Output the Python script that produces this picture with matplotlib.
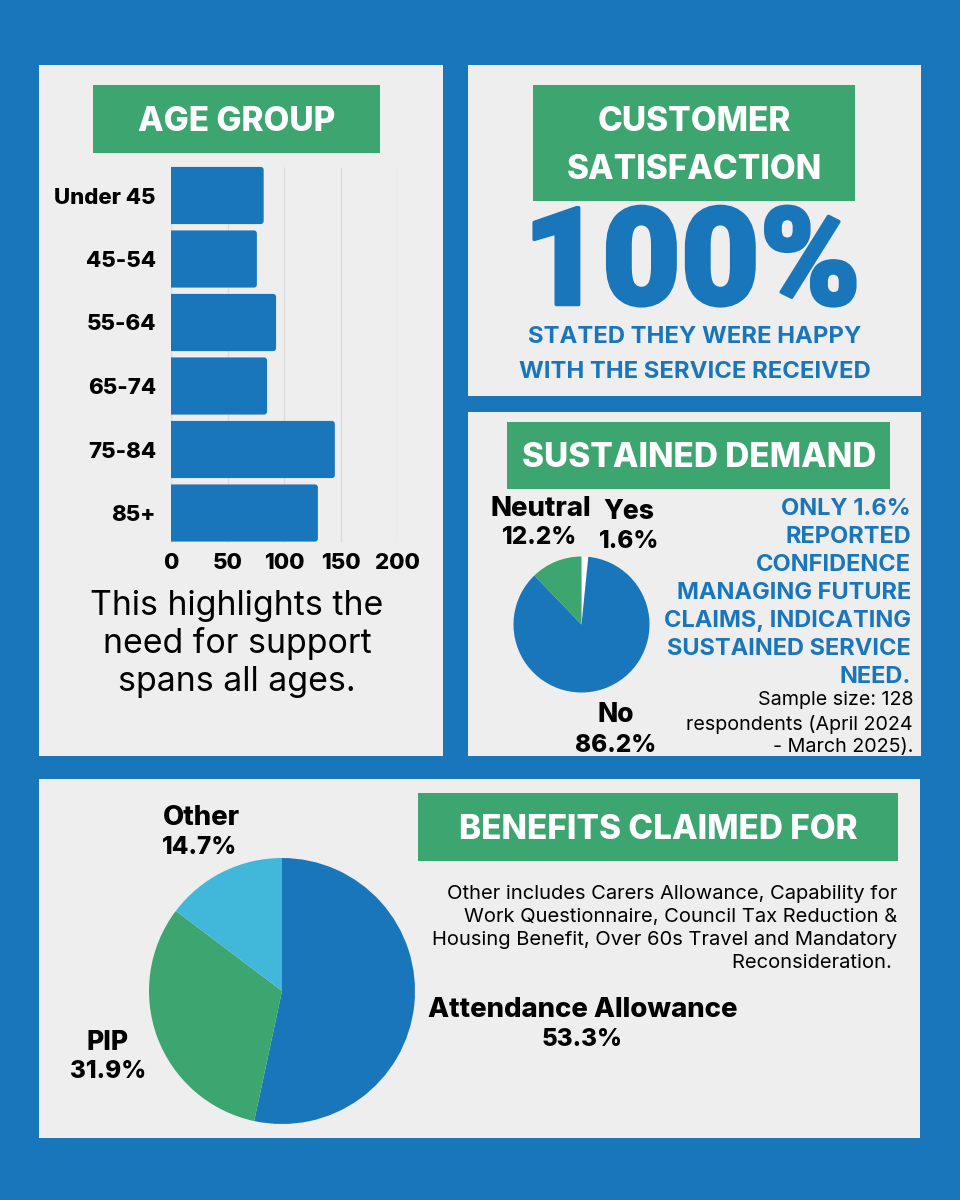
import matplotlib
matplotlib.use("Agg")
import matplotlib.pyplot as plt
import matplotlib.patheffects as pe
from matplotlib.patches import Rectangle, FancyBboxPatch

BLUE = "#1A76BB"; PANEL = "#EEEEEE"; GREEN = "#3DA56F"; CYAN = "#41B8DA"
plt.rcParams['font.family'] = ['Inter', 'Open Sans', 'DejaVu Sans']

age_groups = ["Under 45", "45-54", "55-64", "65-74", "75-84", "85+"]
age_counts = [82, 76, 93, 85, 145, 130]
age_ticks = [0, 50, 100, 150, 200]

demand_labels = ["Yes", "No", "Neutral"]
demand_values = [1.6, 86.2, 12.2]

benefit_labels = ["Attendance Allowance", "PIP", "Other"]
benefit_values = [53.3, 31.9, 14.7]

W, H = 960, 1200
fig = plt.figure(figsize=(W / 100, H / 100), dpi=100, facecolor=BLUE)

def axes_px(x0, y0, x1, y1, **kw):
    return fig.add_axes([x0 / W, 1 - y1 / H, (x1 - x0) / W, (y1 - y0) / H], **kw)

bg = axes_px(0, 0, W, H)
bg.set_xlim(0, W); bg.set_ylim(H, 0); bg.axis("off")

def box(x0, y0, x1, y1, c):
    bg.add_patch(Rectangle((x0, y0), x1 - x0, y1 - y0, fc=c, ec="none"))

for p in [(39, 65, 443, 756), (468, 65, 921, 396), (468, 412, 921, 756), (39, 779, 920, 1138)]:
    box(*p, PANEL)
for g in [(93, 85, 380, 153), (533, 85, 855, 201), (507, 422, 890, 489), (418, 793, 898, 861)]:
    box(*g, GREEN)

def T(x, y, s, size, color="black", weight="bold", ha="center", **kw):
    bg.text(x, y + 2, s, fontsize=size, color=color, fontweight=weight, ha=ha, va="center", **kw)

TITLE = 24
TW = "heavy"
# titles
T(236.5, 120, "AGE GROUP", TITLE, "white", weight=TW)
T(694, 120, "CUSTOMER", TITLE, "white", weight=TW)
T(694, 168, "SATISFACTION", TITLE, "white", weight=TW)
T(699, 456, "SUSTAINED DEMAND", TITLE, "white", weight=TW)
T(658, 828, "BENEFITS CLAIMED FOR", TITLE, "white", weight=TW)

# bar chart
ax = axes_px(171, 163.75, 397, 544.75)
bars = ax.barh(age_groups, age_counts, height=0.9, color="none", edgecolor="none")
ax.set_xlim(0, 200)
ax.set_ylim(len(age_groups) - 0.5, -0.5)
ax.patch.set_alpha(0)
for b in bars:
    p = FancyBboxPatch((-6, b.get_y()), b.get_width() + 6, b.get_height(),
                       boxstyle="round,pad=0,rounding_size=2.6", mutation_aspect=0.018,
                       fc=BLUE, ec="none", zorder=3)
    ax.add_patch(p)
ax.set_xticks(age_ticks)
ax.vlines(age_ticks, -0.45, len(age_groups) - 1 + 0.45, color="#DCDCDC", lw=1, zorder=1)
ax.tick_params(length=0)
ax.tick_params(axis="x", pad=6, labelsize=16)
ax.tick_params(axis="y", pad=10.8, labelsize=16)
for lbl in ax.get_xticklabels() + ax.get_yticklabels():
    lbl.set_fontweight("heavy")
for s in ax.spines.values():
    s.set_visible(False)

# caption
for y, s in zip([604, 642, 680], ["This highlights the", "need for support", "spans all ages."]):
    T(237, y, s, 24.4, weight="normal")

# satisfaction
bg.text(692, 268, "100%", fontsize=98, color=BLUE, fontweight="black", family="Roboto", ha="center", va="center",
        path_effects=[pe.withStroke(linewidth=2.5, foreground=BLUE)])
T(695, 335, "STATED THEY WERE HAPPY", 17.2, BLUE)
T(695, 370, "WITH THE SERVICE RECEIVED", 17.2, BLUE)

# demand pie
ax2 = axes_px(581.5 - 68, 624.5 - 68, 581.5 + 68, 624.5 + 68)
ax2.pie(demand_values, colors=["white", BLUE, GREEN], startangle=90, counterclock=False, radius=1)
ax2.set_xlim(-1, 1); ax2.set_ylim(-1, 1)

def share(labels, values, name):
    return f"{values[labels.index(name)]}%"

NAME = 19.8
NUM = 17.5
T(541, 507, "Neutral", NAME, weight="heavy"); T(540, 536, share(demand_labels, demand_values, "Neutral"), NUM, weight="heavy")
T(629, 510, "Yes", 19, weight="heavy"); T(629, 540, share(demand_labels, demand_values, "Yes"), NUM, weight="heavy")
T(616, 713, "No", 19, weight="heavy"); T(616, 743, share(demand_labels, demand_values, "No"), NUM, weight="heavy")

for y, s in zip([507, 535, 563, 591, 619, 647, 675],
                ["ONLY 1.6%", "REPORTED", "CONFIDENCE", "MANAGING FUTURE",
                 "CLAIMS, INDICATING", "SUSTAINED SERVICE", "NEED."]):
    T(911, y, s, 17, BLUE, ha="right")
for y, s in zip([698, 722, 745], ["Sample size: 128", "respondents (April 2024", "- March 2025)."]):
    T(913, y, s, 14.2, weight="normal", ha="right")

# benefits pie
ax3 = axes_px(282 - 133, 991 - 133, 282 + 133, 991 + 133)
ax3.pie(benefit_values, colors=[BLUE, GREEN, CYAN], startangle=90, counterclock=False, radius=1)
ax3.set_xlim(-1, 1); ax3.set_ylim(-1, 1)

T(201, 816, "Other", NAME, weight="heavy"); T(200, 845, share(benefit_labels, benefit_values, "Other"), NUM, weight="heavy")
T(108, 1041, "PIP", 19, weight="heavy"); T(108, 1070, share(benefit_labels, benefit_values, "PIP"), NUM, weight="heavy")
T(583, 1008, "Attendance Allowance", NAME, weight="heavy"); T(582, 1037, share(benefit_labels, benefit_values, "Attendance Allowance"), NUM, weight="heavy")

for y, s in zip([892, 915, 938, 961],
                ["Other includes Carers Allowance, Capability for",
                 "Work Questionnaire, Council Tax Reduction &",
                 "Housing Benefit, Over 60s Travel and Mandatory",
                 "Reconsideration. "]):
    T(897, y, s, 14.5, weight="normal", ha="right")

fig.savefig("out.png", dpi=100, facecolor=BLUE)
